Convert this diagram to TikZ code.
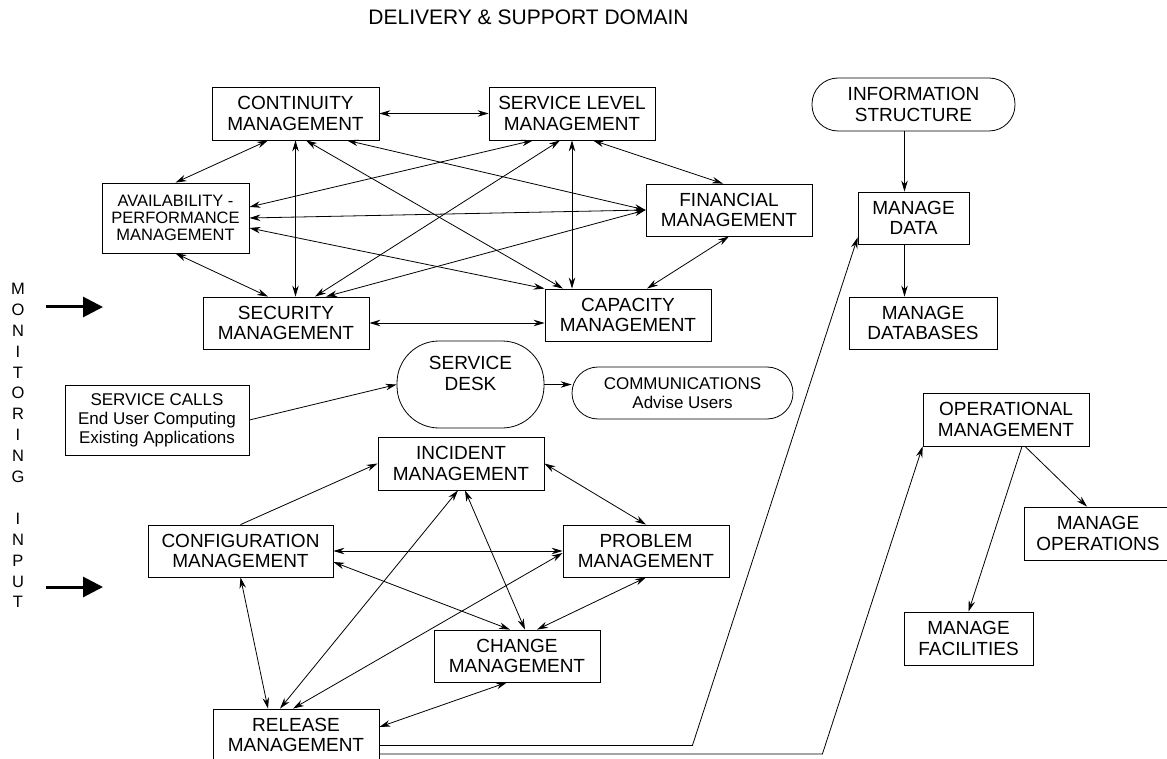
\documentclass[tikz,border=0pt]{standalone}
\usepackage{fontspec}
\setmainfont{Liberation Sans}
\usetikzlibrary{arrows.meta, calc}

\begin{document}
\begin{tikzpicture}[x=1pt, y=-1pt, line width=0.8pt]
    \tikzset{
        mgmt box/.style={
                draw, align=center, inner sep=0pt,
                minimum width=166pt, minimum height=53pt,
                font=\fontsize{19}{20.5}\selectfont
            },
        rounded box/.style={mgmt box, rounded corners=26pt},
        link/.style={{Stealth[length=11pt, width=6.5pt]}-{Stealth[length=11pt, width=6.5pt]}},
        feed/.style={-{Stealth[length=11pt, width=6.5pt]}},
        input arrow/.style={-{Triangle[length=20pt, width=20pt]}, line width=3pt}
    }
    \useasboundingbox (0,0) rectangle (1167,759);
    \clip (0,0) rectangle (1167,759);

    \node[font=\fontsize{21}{24}\selectfont] (title) at (528.5,17.5) {DELIVERY \& SUPPORT DOMAIN};
    \node[font=\fontsize{16.5}{20.9}\selectfont, align=center] (monitor) at (18,445.5)
        {M\\O\\N\\I\\T\\O\\R\\I\\N\\G\\[20.9pt]I\\N\\P\\U\\T};

    % Monitoring input arrows
    \coordinate (in top a) at (46,307);
    \coordinate (in top b) at (103,307);
    \coordinate (in low a) at (46,587);
    \coordinate (in low b) at (103,587);
    \draw[input arrow] (in top a) -- (in top b);
    \draw[input arrow] (in low a) -- (in low b);

    % Service delivery group
    \node[mgmt box, minimum width=167pt] (cont) at (295.5,113.5) {CONTINUITY\\MANAGEMENT};
    \node[mgmt box] (slm) at (572,113.5) {SERVICE LEVEL\\MANAGEMENT};
    \node[mgmt box, minimum width=147pt, minimum height=70pt, font=\fontsize{16.5}{17.3}\selectfont] (avail) at (175.5,218) {AVAILABILITY -\\PERFORMANCE\\MANAGEMENT};
    \node[mgmt box, minimum height=52pt] (fin) at (729,210) {FINANCIAL\\MANAGEMENT};
    \node[mgmt box, minimum height=52pt] (sec) at (286,323) {SECURITY\\MANAGEMENT};
    \node[mgmt box, minimum height=52pt] (cap) at (628,315) {CAPACITY\\MANAGEMENT};

    \draw[link] (cont.east) -- (slm.west);
    \draw[link] ([xshift=-27.5pt]cont.south) -- (avail.north);
    \draw[link] (cont.south) -- (cont.south |- sec.north);
    \draw[link] ([xshift=10.5pt]cont.south) -- ([xshift=-65pt]cap.north);
    \draw[link] ([xshift=51.5pt]cont.south) -- (fin.west);
    \draw[link] ([xshift=21pt]slm.south) -- ([xshift=-6pt]fin.north);
    \draw[link] (slm.south) -- (slm.south |- cap.north);
    \draw[link] ([xshift=-39pt]slm.south) -- ([yshift=11pt]avail.east);
    \draw[link] ([xshift=-12pt]slm.south) -- ([xshift=29pt]sec.north);
    \draw[link] (avail.east) -- (fin.west);
    \draw[link] ([yshift=-10pt]avail.east) -- (cap.north west);
    \draw[link] (avail.south) -- ([xshift=-18pt]sec.north);
    \draw[link] ([xshift=40pt]sec.north) -- (fin.west);
    \draw[link] (sec.east) -- (sec.east -| cap.west);
    \draw[link] (fin.south) -- ([xshift=19pt]cap.north);

    % Data side
    \node[rounded box, minimum width=203pt] (info) at (913.5,104.5) {INFORMATION\\STRUCTURE};
    \node[mgmt box, minimum width=111pt, minimum height=52pt] (mdata) at (913.5,218) {MANAGE\\DATA};
    \node[mgmt box, minimum width=148pt, minimum height=52pt] (mdb) at (923,323) {MANAGE\\DATABASES};

    \draw[feed] ([xshift=-9pt]info.south) -- ([xshift=-9pt]mdata.north);
    \draw[feed] ([xshift=-9pt]mdata.south) -- ([xshift=-9pt]mdata.south |- mdb.north);

    % Service desk
    \node[mgmt box, minimum width=184pt, minimum height=70pt, font=\fontsize{17}{19}\selectfont] (calls) at (157,420) {SERVICE CALLS\\End User Computing\\Existing Applications};
    \node[mgmt box, rounded corners=42pt, minimum width=147pt, minimum height=87pt, text depth=22pt] (desk) at (470.5,384.5) {SERVICE\\DESK};
    \node[rounded box, minimum width=221pt, minimum height=52pt, font=\fontsize{17}{18.3}\selectfont] (comm) at (682.5,393) {COMMUNICATIONS\\Advise Users};

    \draw[feed] (calls.east) -- (desk.west);
    \draw[feed] (desk.east) -- (desk.east -| comm.west);

    % Service support group
    \node[mgmt box] (inc) at (461,463.5) {INCIDENT\\MANAGEMENT};
    \node[mgmt box, minimum height=52pt] (prob) at (646,551) {PROBLEM\\MANAGEMENT};
    \node[mgmt box, minimum height=52pt] (chg) at (517,656) {CHANGE\\MANAGEMENT};
    \node[mgmt box, minimum width=185pt, minimum height=52pt] (conf) at (240.5,551) {CONFIGURATION\\MANAGEMENT};
    \node[mgmt box, minimum height=52pt] (rel) at (296,735) {RELEASE\\MANAGEMENT};

    \draw[feed] (conf.north) -- (inc.west);
    \draw[link] (conf.east) -- (prob.west);
    \draw[link] ([yshift=-11pt]conf.east) -- ([xshift=-7pt]chg.north);
    \draw[link] (conf.south) -- ([xshift=-28pt]rel.north);
    \draw[link] (inc.east) -- (prob.north);
    \draw[link] ([xshift=4pt]inc.south) -- ([xshift=8pt]chg.north);
    \draw[link] ([xshift=-3pt]inc.south) -- ([xshift=-16pt]rel.north);
    \draw[link] ([yshift=-2pt]prob.west) -- ([xshift=-3pt]rel.north);
    \draw[link] (prob.south) -- ([xshift=20pt]chg.north);
    \draw[link] ([xshift=-10pt]chg.south) -- ([yshift=8pt]rel.east);

    % Operations side
    \node[mgmt box] (oper) at (1006,419.5) {OPERATIONAL\\MANAGEMENT};
    \node[mgmt box, minimum width=148pt] (mops) at (1098,533.5) {MANAGE\\OPERATIONS};
    \node[mgmt box, minimum width=129pt] (mfac) at (968.5,638.5) {MANAGE\\FACILITIES};

    \draw[feed] ([xshift=19pt]oper.south) -- ([xshift=-11pt]mops.north);
    \draw[feed] ([xshift=16pt]oper.south) -- (mfac.north);

    % Release feeds
    \draw[feed] ([yshift=-10.5pt]rel.east) -- ++(313,0) -- ([yshift=7pt]mdata.south west);
    \draw[feed] ([yshift=-19pt]rel.east) -- ++(443,0) -- (oper.south west);
\end{tikzpicture}
\end{document}
